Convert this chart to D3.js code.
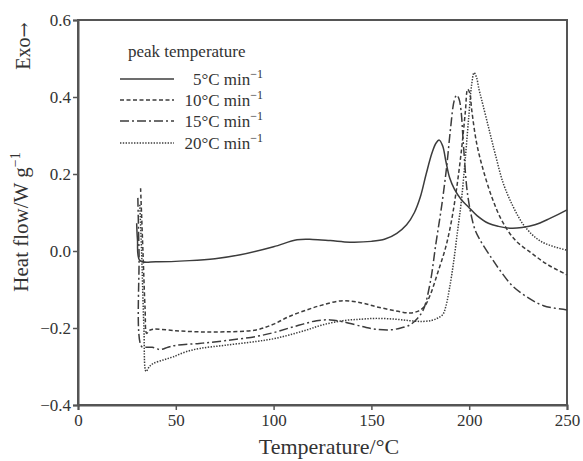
<!DOCTYPE html>
<html>
<head>
<meta charset="utf-8">
<script src="https://cdn.jsdelivr.net/npm/d3@7"></script>
<style>
  body { margin: 0; background: #fff; }
  text { font-family: "Liberation Serif", "DejaVu Serif", serif; fill: #333; }
</style>
</head>
<body>
<script>
// DATA
const rates = ["5", "10", "15", "20"];

const temp5 = [30.0, 30.4, 31.7, 40, 57, 70, 83, 100, 112, 120, 129, 139, 150, 157, 163, 168, 172, 175, 178, 181, 183, 184.7, 186.5, 188, 190, 192.5, 196, 199.5, 204, 209.8, 215, 221.7, 227, 233.6, 241, 250];
const flow5 = [0.072, 0.03, -0.025, -0.028, -0.025, -0.02, -0.01, 0.011, 0.029, 0.030, 0.027, 0.023, 0.025, 0.031, 0.046, 0.068, 0.1, 0.14, 0.2, 0.255, 0.28, 0.288, 0.272, 0.235, 0.19, 0.16, 0.133, 0.115, 0.092, 0.072, 0.064, 0.059, 0.061, 0.068, 0.084, 0.107];

const temp10 = [32.0, 33.2, 34.3, 35.1, 36.5, 38.5, 50, 62, 75, 91, 100, 108, 117, 125, 135.5, 145, 152.7, 162, 169.7, 174, 177, 180, 184, 188, 191, 193.5, 196, 198, 199.2, 200.3, 201.3, 203.8, 207.2, 211.5, 216.6, 223.4, 232, 240, 250];
const flow10 = [0.163, 0.0, -0.15, -0.214, -0.206, -0.203, -0.207, -0.21, -0.21, -0.205, -0.19, -0.17, -0.153, -0.14, -0.129, -0.135, -0.145, -0.155, -0.161, -0.156, -0.145, -0.115, -0.055, 0.01, 0.08, 0.16, 0.26, 0.36, 0.42, 0.41, 0.366, 0.28, 0.21, 0.141, 0.08, 0.029, -0.006, -0.035, -0.062];

const temp15 = [30.6, 31.2, 32.5, 35, 38, 42, 46, 50, 62, 75, 91, 100, 108, 115, 122, 129, 135.5, 146, 152, 159.5, 165, 169.7, 173, 176.5, 180, 183, 186, 188.5, 190.5, 192.3, 193.6, 194.8, 195.8, 197, 198.7, 200, 201.2, 203, 205.5, 211.5, 215.7, 222, 229.4, 238, 250];
const flow15 = [0.138, 0.0, -0.248, -0.25, -0.25, -0.256, -0.25, -0.245, -0.24, -0.233, -0.222, -0.212, -0.2, -0.19, -0.181, -0.179, -0.184, -0.197, -0.203, -0.205, -0.2, -0.192, -0.178, -0.153, -0.084, 0.02, 0.12, 0.22, 0.32, 0.39, 0.405, 0.395, 0.366, 0.28, 0.167, 0.12, 0.089, 0.055, 0.029, -0.019, -0.05, -0.09, -0.119, -0.142, -0.153];

const temp20 = [31.6, 32.5, 33.7, 34.8, 36.5, 38.5, 43.6, 48.6, 55, 62.4, 75, 91, 100, 108, 117, 125, 135.5, 145, 152.7, 162, 169.7, 176, 181, 184, 186.5, 188, 190, 192, 194, 196, 198, 199.8, 201.2, 202.5, 203.8, 205, 206.4, 209.8, 213.2, 217.4, 222.5, 228.5, 237, 250];
const flow20 = [0.12, 0.0, -0.2, -0.313, -0.3, -0.292, -0.283, -0.275, -0.262, -0.253, -0.245, -0.235, -0.228, -0.218, -0.205, -0.192, -0.181, -0.177, -0.175, -0.177, -0.181, -0.183, -0.18, -0.174, -0.165, -0.145, -0.095, -0.03, 0.05, 0.13, 0.24, 0.35, 0.43, 0.463, 0.45, 0.42, 0.392, 0.323, 0.254, 0.176, 0.115, 0.063, 0.024, 0.002];

const xTicks = [0, 50, 100, 150, 200, 250];
const yTicks = [-0.4, -0.2, 0.0, 0.2, 0.4, 0.6];

// D3
const svg = d3.select("body")
    .append("svg")
    .attr("width", 583)
    .attr("height", 461);

const margin = {top: 20, right: 16, bottom: 56, left: 78};
const width = 583 - margin.left - margin.right;
const height = 461 - margin.top - margin.bottom;

const xScale = d3.scaleLinear().domain([0, 250]).range([0, width]);
const yScale = d3.scaleLinear().domain([-0.4, 0.6]).range([height, 0]);

const g = svg.append("g")
    .attr("transform", "translate(" + margin.left + "," + margin.top + ")");

// frame box
g.append("rect")
    .attr("width", width)
    .attr("height", height)
    .attr("fill", "none")
    .attr("stroke", "#555")
    .attr("stroke-width", 2);

const xAxis = g.append("g")
    .attr("transform", "translate(0," + height + ")")
    .call(d3.axisBottom(xScale).tickValues(xTicks).tickSize(5).tickPadding(4));
const yAxis = g.append("g")
    .call(d3.axisLeft(yScale).tickValues(yTicks).tickFormat(d3.format(".1f")).tickSize(5).tickPadding(2));

[xAxis, yAxis].forEach(function(ax) {
    ax.select(".domain").attr("stroke", "#555").attr("stroke-width", 2);
    ax.selectAll(".tick line").attr("stroke", "#555").attr("stroke-width", 1.5);
    ax.selectAll(".tick text")
        .attr("font-family", "Liberation Serif")
        .attr("font-size", 17)
        .attr("fill", "#333");
});

// series
const styles = ["none", "4,2.5", "9,3,2,3", "1.4,1.4"];
const series = [
    d3.zip(temp5, flow5),
    d3.zip(temp10, flow10),
    d3.zip(temp15, flow15),
    d3.zip(temp20, flow20)
];

const line = d3.line()
    .x(d => xScale(d[0]))
    .y(d => yScale(d[1]))
    .curve(d3.curveCatmullRom.alpha(0.5));

g.selectAll("path.curve").data(series)
    .enter()
    .append("path")
    .attr("class", "curve")
    .attr("d", line)
    .attr("fill", "none")
    .attr("stroke", "#3c3c3c")
    .attr("stroke-width", 1.5)
    .attr("stroke-dasharray", (d, i) => styles[i]);

// legend
svg.append("text")
    .attr("x", 128)
    .attr("y", 57)
    .attr("font-size", 17)
    .text("peak temperature");

const rowY = [79, 100, 121, 143];
const leg = svg.selectAll("g.leg").data(rates)
    .enter()
    .append("g")
    .attr("class", "leg")
    .attr("transform", (d, i) => "translate(0," + rowY[i] + ")");

leg.append("line")
    .attr("x1", 120).attr("x2", 174)
    .attr("y1", 0).attr("y2", 0)
    .attr("stroke", "#3c3c3c")
    .attr("stroke-width", 1.5)
    .attr("stroke-dasharray", (d, i) => styles[i]);

const lt = leg.append("text")
    .attr("x", 263)
    .attr("y", 6)
    .attr("text-anchor", "end")
    .attr("font-size", 17);
lt.append("tspan").text(d => d + "\u00b0C min");
lt.append("tspan").attr("dy", -7).attr("font-size", 12).text("\u22121");

// axis titles
svg.append("text")
    .attr("x", 329)
    .attr("y", 454)
    .attr("text-anchor", "middle")
    .attr("font-size", 22)
    .text("Temperature/\u00b0C");

const yt = svg.append("text")
    .attr("transform", "translate(28,222) rotate(-90)")
    .attr("text-anchor", "middle")
    .attr("font-size", 21);
yt.append("tspan").text("Heat flow/W g");
yt.append("tspan").attr("dy", -8).attr("font-size", 14).text("\u22121");

const exo = svg.append("text")
    .attr("transform", "translate(30,46) rotate(-90)")
    .attr("text-anchor", "middle")
    .attr("font-size", 20);
exo.append("tspan").text("Exo");
exo.append("tspan").attr("font-family", "DejaVu Serif").attr("font-size", 18).text("\u2192");
</script>
</body>
</html>
